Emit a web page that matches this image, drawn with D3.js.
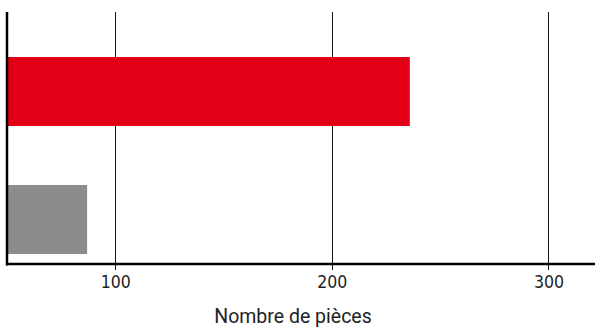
<!DOCTYPE html>
<html>
<head>
<meta charset="utf-8">
<script src="https://cdn.jsdelivr.net/npm/d3@7"></script>
<style>
  html, body { margin: 0; padding: 0; background: #fff; }
  svg { display: block; }
  text { fill: #222; }
</style>
</head>
<body>
<div id="chart"></div>
<script>
// Piece counts per group
const categories = ["A", "B"];
const values = [236, 87];
const colors = ["#E30016", "#8C8C8C"];
const tickValues = [100, 200, 300];
const axisTitle = "Nombre de pièces";

const width = 595, height = 327;
const plot = { left: 7, right: 595, top: 12, bottom: 264 };

const svg = d3.select("#chart").append("svg")
  .attr("width", width).attr("height", height);

const x = d3.scaleLinear().domain([50, 321.5]).range([plot.left, plot.right]);
const y = d3.scaleBand().domain(categories).range([57, 254]).paddingInner(0.461).paddingOuter(0);

// vertical gridlines, running slightly below the baseline as ticks
svg.append("g").selectAll("line").data(tickValues).join("line")
  .attr("x1", d => Math.round(x(d)) + 0.5).attr("x2", d => Math.round(x(d)) + 0.5)
  .attr("y1", plot.top).attr("y2", plot.bottom + 6)
  .attr("stroke", "#111").attr("stroke-width", 1);

// bars
svg.append("g").selectAll("rect").data(categories).join("rect")
  .attr("x", x(50) + 1)
  .attr("y", d => y(d))
  .attr("width", (d, i) => x(values[i]) - x(50) - 1)
  .attr("height", y.bandwidth())
  .attr("fill", (d, i) => colors[i]);

// axis lines
svg.append("line")
  .attr("x1", plot.left).attr("x2", plot.left)
  .attr("y1", plot.top).attr("y2", plot.bottom + 1.5)
  .attr("stroke", "#000").attr("stroke-width", 2.5);
svg.append("line")
  .attr("x1", plot.left - 1).attr("x2", plot.right)
  .attr("y1", plot.bottom).attr("y2", plot.bottom)
  .attr("stroke", "#000").attr("stroke-width", 2.5);

// tick labels
svg.append("g").selectAll("text").data(tickValues).join("text")
  .attr("x", d => x(d) + 0.5)
  .attr("y", 288)
  .attr("text-anchor", "middle")
  .attr("font-family", "'Liberation Sans Narrow', 'DejaVu Sans Condensed', Roboto, sans-serif")
  .attr("font-size", 17.5)
  .text(d => d);

// axis title
svg.append("text")
  .attr("x", 293).attr("y", 323)
  .attr("text-anchor", "middle")
  .attr("font-family", "Roboto, 'DejaVu Sans', sans-serif")
  .attr("font-size", 19.5)
  .text(axisTitle);
</script>
</body>
</html>
